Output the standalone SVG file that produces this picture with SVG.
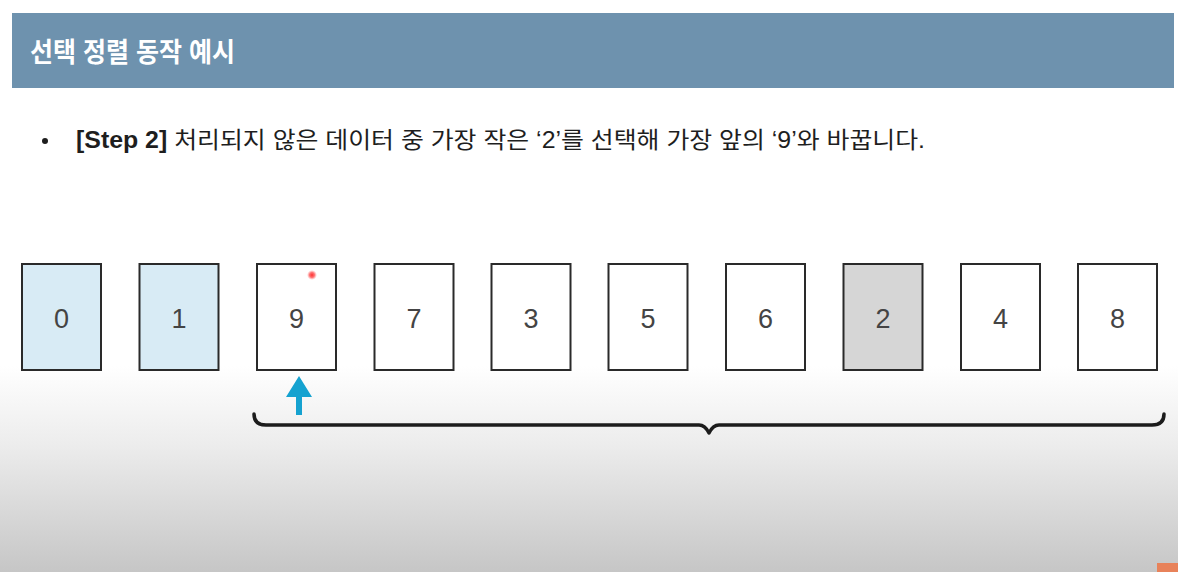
<svg xmlns="http://www.w3.org/2000/svg" width="1178" height="572" viewBox="0 0 1178 572">
<defs>
<linearGradient id="bg" x1="0" y1="0" x2="0" y2="1">
<stop offset="0" stop-color="#ffffff"/>
<stop offset="0.64" stop-color="#ffffff"/>
<stop offset="0.78" stop-color="#ececec"/>
<stop offset="1" stop-color="#c6c6c6"/>
</linearGradient>
<radialGradient id="dot">
<stop offset="0" stop-color="#ff3030"/>
<stop offset="0.5" stop-color="#ff5050" stop-opacity="0.8"/>
<stop offset="1" stop-color="#ff8080" stop-opacity="0"/>
</radialGradient>
</defs>
<style>
.card{stroke:#2a2a2a;stroke-width:2;}
.blue{fill:#d8ebf5;}
.white{fill:#ffffff;}
.gray{fill:#d6d6d6;}
.num{font-family:"Liberation Sans","Noto Sans",sans-serif;font-size:27px;fill:#444;text-anchor:middle;}
.title{font-family:"Liberation Sans","Noto Sans CJK KR",sans-serif;font-size:27px;font-weight:bold;fill:#ffffff;}
.body{font-family:"Liberation Sans","Noto Sans CJK KR",sans-serif;font-size:23px;fill:#1e1e1e;}
</style>
<rect x="0" y="0" width="1178" height="572" fill="url(#bg)"/>
<g id="header">
<rect x="12" y="13" width="1162" height="75" fill="#6e92ae"/>
<text class="title" x="30" y="62" textLength="205" lengthAdjust="spacingAndGlyphs">선택 정렬 동작 예시</text>
</g>
<g id="bullet">
<circle cx="45" cy="141" r="3" fill="#1e1e1e"/>
<text class="body" x="76" y="148" textLength="849" lengthAdjust="spacingAndGlyphs"><tspan font-weight="bold">[Step 2]</tspan> 처리되지 않은 데이터 중 가장 작은 ‘2’를 선택해 가장 앞의 ‘9’와 바꿉니다.</text>
</g>
<g id="card0"><rect class="card blue" x="22" y="264" width="79" height="106"/><text class="num" x="61.5" y="328">0</text></g>
<g id="card1"><rect class="card blue" x="139.5" y="264" width="79" height="106"/><text class="num" x="179" y="328">1</text></g>
<g id="card2"><rect class="card white" x="257" y="264" width="79" height="106"/><text class="num" x="296.5" y="328">9</text></g>
<g id="card3"><rect class="card white" x="374.5" y="264" width="79" height="106"/><text class="num" x="414" y="328">7</text></g>
<g id="card4"><rect class="card white" x="491.5" y="264" width="79" height="106"/><text class="num" x="531" y="328">3</text></g>
<g id="card5"><rect class="card white" x="608.5" y="264" width="79" height="106"/><text class="num" x="648" y="328">5</text></g>
<g id="card6"><rect class="card white" x="726" y="264" width="79" height="106"/><text class="num" x="765.5" y="328">6</text></g>
<g id="card7"><rect class="card gray" x="843.5" y="264" width="79" height="106"/><text class="num" x="883" y="328">2</text></g>
<g id="card8"><rect class="card white" x="961" y="264" width="79" height="106"/><text class="num" x="1000.5" y="328">4</text></g>
<g id="card9"><rect class="card white" x="1078" y="264" width="79" height="106"/><text class="num" x="1117.5" y="328">8</text></g>
<g id="connectors">
<path d="M299 376 L312 397 L302 397 L302 415 L296 415 L296 397 L286 397 Z" fill="#15a2d0"/>
<path d="M254 414 Q254 425 266 425 L699 425 Q705 425 709 433 Q713 425 719 425 L1152 425 Q1164 425 1164 414" fill="none" stroke="#1c1c1c" stroke-width="3.5" stroke-linecap="round" stroke-linejoin="round"/>
</g>
<circle cx="312" cy="275" r="5" fill="url(#dot)"/>
<rect x="1157" y="563" width="21" height="9" fill="#e8825a"/>
</svg>
